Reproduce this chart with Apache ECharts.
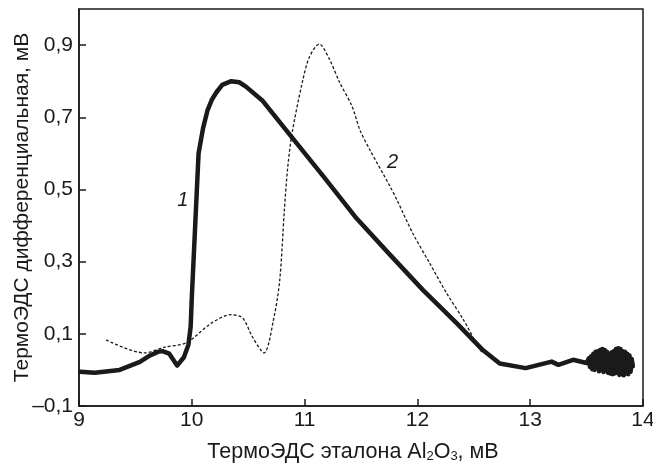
<!DOCTYPE html>
<html>
<head>
<meta charset="utf-8">
<script src="https://cdn.jsdelivr.net/npm/echarts@6/dist/echarts.min.js"></script>
<style>
  html, body { margin: 0; padding: 0; background: #fff; }
  #chart { width: 653px; height: 466px; }
</style>
</head>
<body>
<div id="chart"></div>
<script>
 var myChart = echarts.init(document.getElementById('chart'));

 // кривая 1 (жирная)
 var curve1X = [9.01, 9.14, 9.36, 9.54, 9.63, 9.70, 9.74, 9.80, 9.87, 9.93, 9.97, 9.99, 10.00, 10.03, 10.06, 10.10, 10.14, 10.18, 10.22, 10.27, 10.35, 10.42, 10.48, 10.63, 10.87, 11.17, 11.46, 11.76, 12.05, 12.35, 12.58, 12.73, 12.96, 13.19, 13.25, 13.38, 13.50,
     13.52, 13.53, 13.54, 13.55, 13.56, 13.57, 13.58, 13.59, 13.60, 13.61, 13.62, 13.63, 13.64, 13.65, 13.66, 13.67, 13.68, 13.69, 13.70, 13.71,
     13.72, 13.73, 13.74, 13.75, 13.76, 13.77, 13.78, 13.79, 13.80, 13.81, 13.82, 13.83, 13.84, 13.85, 13.86, 13.87, 13.88, 13.89, 13.90, 13.91];
 var curve1Y = [-0.005, -0.008, 0.0, 0.022, 0.040, 0.050, 0.052, 0.045, 0.012, 0.035, 0.07, 0.12, 0.2, 0.40, 0.60, 0.67, 0.72, 0.75, 0.77, 0.79, 0.80, 0.797, 0.785, 0.745, 0.651, 0.535, 0.420, 0.318, 0.221, 0.129, 0.055, 0.018, 0.005, 0.023, 0.014, 0.028, 0.019,
     0.032, 0.008, 0.038, 0.002, 0.045, 0.0, 0.05, 0.005, 0.052, -0.004, 0.055, 0.002, 0.058, -0.006, 0.055, 0.0, 0.05, -0.008, 0.045, -0.01,
     0.048, -0.012, 0.052, -0.01, 0.058, -0.008, 0.06, -0.014, 0.058, -0.012, 0.052, -0.015, 0.05, -0.01, 0.045, -0.012, 0.04, -0.005, 0.03, 0.01];

 // кривая 2 (пунктир)
 var curve2X = [9.24, 9.58, 9.76, 9.95, 10.18, 10.35, 10.45, 10.54, 10.64, 10.73, 10.78, 10.82, 10.85, 10.89, 10.98, 11.04, 11.13, 11.22, 11.31, 11.42, 11.49, 11.58, 11.76, 11.82, 11.96, 12.11, 12.26, 12.41, 12.54, 12.58];
 var curve2Y = [0.083, 0.047, 0.063, 0.075, 0.131, 0.153, 0.144, 0.090, 0.047, 0.148, 0.25, 0.44, 0.56, 0.658, 0.797, 0.865, 0.903, 0.861, 0.797, 0.731, 0.665, 0.609, 0.507, 0.470, 0.378, 0.295, 0.212, 0.138, 0.064, 0.045];

 var yTicks = [-0.1, 0.1, 0.3, 0.5, 0.7, 0.9];
 var curveLabels = [{ name: '1', coord: [9.92, 0.47] }, { name: '2', coord: [11.78, 0.575] }];

 function zip(xs, ys) {
     return xs.map(function(x, i) { return [x, ys[i]]; });
 }

 var font = 'Liberation Sans, Arial, sans-serif';
 var ink = '#1a1a1a';

 var option = {
     animation: false,
     backgroundColor: '#fff',
     grid: {
         left: 79,
         right: 10,
         top: 9,
         bottom: 60,
         outerBoundsMode: 'none',
         containLabel: false,
         show: true,
         borderColor: ink,
         borderWidth: 1.5,
         backgroundColor: 'transparent'
     },
     xAxis: {
         type: 'value',
         min: 9,
         max: 14,
         interval: 1,
         name: '{a|ТермоЭДС эталона Al}{s|2}{a|O}{s|3}{a|, мВ}',
         nameLocation: 'middle',
         nameGap: 35,
         nameMoveOverlap: false,
         nameTextStyle: {
             padding: [0, 16, 0, 0],
             rich: {
                 a: { fontFamily: font, fontSize: 21.5, color: ink },
                 s: { fontFamily: font, fontSize: 13, color: ink, padding: [9, 0, 0, 0] }
             }
         },
         axisLine: { onZero: false, lineStyle: { color: ink, width: 1.5 } },
         axisTick: { inside: true, length: 7, lineStyle: { color: ink, width: 1.5 } },
         axisLabel: { fontFamily: font, fontSize: 21, color: ink, margin: 4 },
         splitLine: { show: false }
     },
     yAxis: {
         type: 'value',
         min: -0.1,
         max: 1.0,
         name: 'ТермоЭДС дифференциальная, мВ',
         nameLocation: 'middle',
         nameGap: 46,
         nameRotate: 90,
         nameMoveOverlap: false,
         nameTextStyle: { fontFamily: font, fontSize: 21, color: ink },
         axisLine: { show: true, onZero: false, lineStyle: { color: ink, width: 1.5 } },
         axisTick: { inside: true, length: 7, customValues: yTicks, lineStyle: { color: ink, width: 1.5 } },
         axisLabel: {
             fontFamily: font, fontSize: 21, color: ink, margin: 6,
             customValues: yTicks,
             formatter: function(v) {
                 return v.toFixed(1).replace('.', ',').replace('-', '\u2013');
             }
         },
         splitLine: { show: false }
     },
     series: [{
         name: '2',
         type: 'line',
         data: zip(curve2X, curve2Y),
         showSymbol: false,
         smooth: 0.3,
         lineStyle: { color: ink, width: 1.3, type: [3, 2] },
         z: 2
     }, {
         name: '1',
         type: 'line',
         data: zip(curve1X, curve1Y),
         showSymbol: false,
         lineStyle: { color: ink, width: 4.5, join: 'round', cap: 'round' },
         z: 3,
         markPoint: {
             symbol: 'circle',
             symbolSize: 1,
             itemStyle: { color: 'transparent' },
             label: {
                 show: true,
                 position: 'inside',
                 formatter: '{b}',
                 fontFamily: font,
                 fontSize: 20,
                 fontStyle: 'italic',
                 color: ink
             },
             data: curveLabels
         }
     }]
 };

 myChart.setOption(option);
</script>
</body>
</html>
